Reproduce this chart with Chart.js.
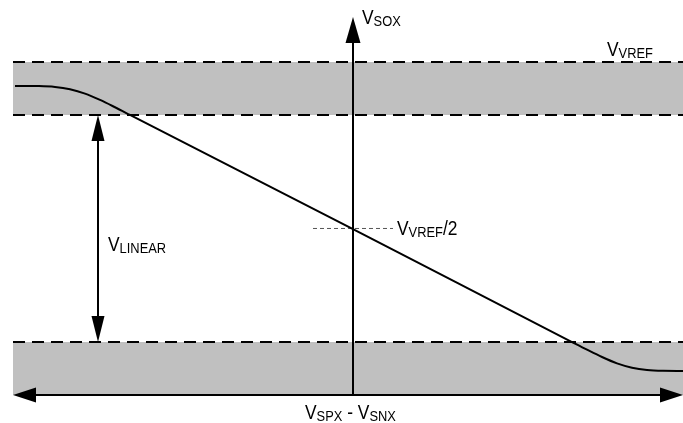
<!DOCTYPE html>
<html>
<head>
<meta charset="utf-8">
<script src="https://cdn.jsdelivr.net/npm/chart.js@4"></script>
<style>
  html, body { margin: 0; padding: 0; background: #fff; }
  canvas { display: block; }
</style>
</head>
<body>
<canvas id="myChart" width="683" height="423"></canvas>
<script>
// transfer curve (x in arbitrary units, y as fraction of VREF)
const curveX = [-33.8, -31.4, -29.8, -28.3, -26.8, -25.3, -23.8, -22.3, 0, 21.9, 23.4, 24.9, 26.4, 27.9, 29.4, 31.0, 33.0];
const curveY = [0.928, 0.9275, 0.925, 0.918, 0.905, 0.886, 0.864, 0.841, 0.498, 0.159, 0.136, 0.114, 0.095, 0.082, 0.075, 0.0725, 0.072];

// levels
const vref = 1;
const linHigh = 0.841;
const linLow = 0.159;
const half = 0.5;
const xRange = [-34, 33];
const yTop = 1.135;      // tip of the vertical axis
const linearX = -25.5;   // where the V_LINEAR arrow sits

// texts, as [text, isSubscript] pieces
const labelSox = [['V', 0], ['SOX', 1]];
const labelVref = [['V', 0], ['VREF', 1]];
const labelHalf = [['V', 0], ['VREF', 1], ['/2', 0]];
const labelLinear = [['V', 0], ['LINEAR', 1]];
const labelDiff = [['V', 0], ['SPX', 1], [' - ', 0], ['V', 0], ['SNX', 1]];

const GRAY = '#c0c0c0';

function hline(y, x0, x1) {
    return [{ x: x0, y: y }, { x: x1, y: y }];
}

const drawExtras = {
    id: 'drawExtras',
    afterDatasetsDraw(chart) {
        const ctx = chart.ctx;
        const xs = chart.scales.x;
        const ys = chart.scales.y;
        const px = v => xs.getPixelForValue(v);
        const py = v => ys.getPixelForValue(v);

        // arrow heads: tip position, direction, length, half width
        const heads = [
            [0, yTop, 'up', 26, 7.5],
            [xRange[0], 0, 'left', 23, 7.5],
            [xRange[1], 0, 'right', 23, 7.5],
            [linearX, linHigh, 'up', 26, 6.5],
            [linearX, linLow, 'down', 26, 6.5],
        ];
        ctx.save();
        ctx.fillStyle = '#000';
        heads.forEach(([x, y, dir, len, w]) => {
            const tx = px(x);
            const ty = py(y);
            ctx.beginPath();
            ctx.moveTo(tx, ty);
            if (dir === 'up') {
                ctx.lineTo(tx - w, ty + len);
                ctx.lineTo(tx + w, ty + len);
            } else if (dir === 'down') {
                ctx.lineTo(tx - w, ty - len);
                ctx.lineTo(tx + w, ty - len);
            } else if (dir === 'left') {
                ctx.lineTo(tx + len, ty - w);
                ctx.lineTo(tx + len, ty + w);
            } else {
                ctx.lineTo(tx - len, ty - w);
                ctx.lineTo(tx - len, ty + w);
            }
            ctx.closePath();
            ctx.fill();
        });

        // labels
        const labels = [
            [labelSox, 0.9, 1.114],
            [labelVref, 25.4, 1.018],
            [labelHalf, 4.4, 0.48],
            [labelLinear, -24.5, 0.432],
            [labelDiff, -4.8, -0.072],
        ];
        ctx.textBaseline = 'alphabetic';
        labels.forEach(([pieces, x, y]) => {
            let cx = px(x);
            const by = py(y);
            pieces.forEach(([txt, sub]) => {
                ctx.save();
                ctx.font = sub ? '14px "Liberation Sans", Arial, sans-serif'
                               : '20px "Liberation Sans", Arial, sans-serif';
                const sx = sub ? 0.92 : 0.87;
                ctx.translate(cx, by + (sub ? 2 : 0));
                ctx.scale(sx, 1);
                ctx.fillText(txt, 0, 0);
                cx += ctx.measureText(txt).width * sx;
                ctx.restore();
            });
        });
        ctx.restore();
    }
};

const ctx = document.getElementById('myChart').getContext('2d');
const chart = new Chart(ctx, {
    type: 'scatter',
    data: {
        datasets: [
            {
                // transfer curve
                data: curveX.map((x, i) => ({ x: x, y: curveY[i] })),
                showLine: true,
                borderColor: '#000',
                borderWidth: 2,
                pointRadius: 0,
                cubicInterpolationMode: 'monotone',
                fill: false,
                order: 0,
            },
            {
                // VREF dashed line, top band filled down to next dataset
                data: hline(vref, xRange[0], xRange[1]),
                showLine: true,
                borderColor: '#000',
                borderWidth: 2,
                borderDash: [12, 7],
                pointRadius: 0,
                fill: '+1',
                backgroundColor: GRAY,
                order: 3,
            },
            {
                data: hline(linHigh, xRange[0], xRange[1]),
                showLine: true,
                borderColor: '#000',
                borderWidth: 2,
                borderDash: [12, 7],
                pointRadius: 0,
                fill: false,
                order: 3,
            },
            {
                // bottom band
                data: hline(linLow, xRange[0], xRange[1]),
                showLine: true,
                borderColor: '#000',
                borderWidth: 2,
                borderDash: [12, 7],
                pointRadius: 0,
                fill: 'origin',
                backgroundColor: GRAY,
                order: 3,
            },
            {
                // VREF/2 marker
                data: hline(half, -4, 4),
                showLine: true,
                borderColor: '#555',
                borderWidth: 1,
                borderDash: [4, 3],
                pointRadius: 0,
                fill: false,
                order: 2,
            },
            {
                // vertical axis
                data: [{ x: 0, y: 0 }, { x: 0, y: yTop - 0.04 }],
                showLine: true,
                borderColor: '#000',
                borderWidth: 2,
                pointRadius: 0,
                fill: false,
                order: 1,
            },
            {
                // horizontal axis
                data: hline(0, xRange[0] + 1, xRange[1] - 1),
                showLine: true,
                borderColor: '#000',
                borderWidth: 2,
                pointRadius: 0,
                fill: false,
                order: 1,
            },
            {
                // V_LINEAR span
                data: [{ x: linearX, y: linLow + 0.04 }, { x: linearX, y: linHigh - 0.04 }],
                showLine: true,
                borderColor: '#000',
                borderWidth: 2,
                pointRadius: 0,
                fill: false,
                order: 1,
            },
        ],
    },
    options: {
        responsive: false,
        animation: false,
        events: [],
        layout: {
            padding: { left: 13, right: 0, top: 12, bottom: 28 }
        },
        datasets: {
            scatter: { clip: false }
        },
        scales: {
            x: { type: 'linear', display: false, min: xRange[0], max: xRange[1] },
            y: { type: 'linear', display: false, min: 0, max: 1.15 },
        },
        plugins: {
            legend: { display: false },
            tooltip: { enabled: false },
            filler: { drawTime: 'beforeDatasetsDraw' },
        },
    },
    plugins: [drawExtras],
});
</script>
</body>
</html>
